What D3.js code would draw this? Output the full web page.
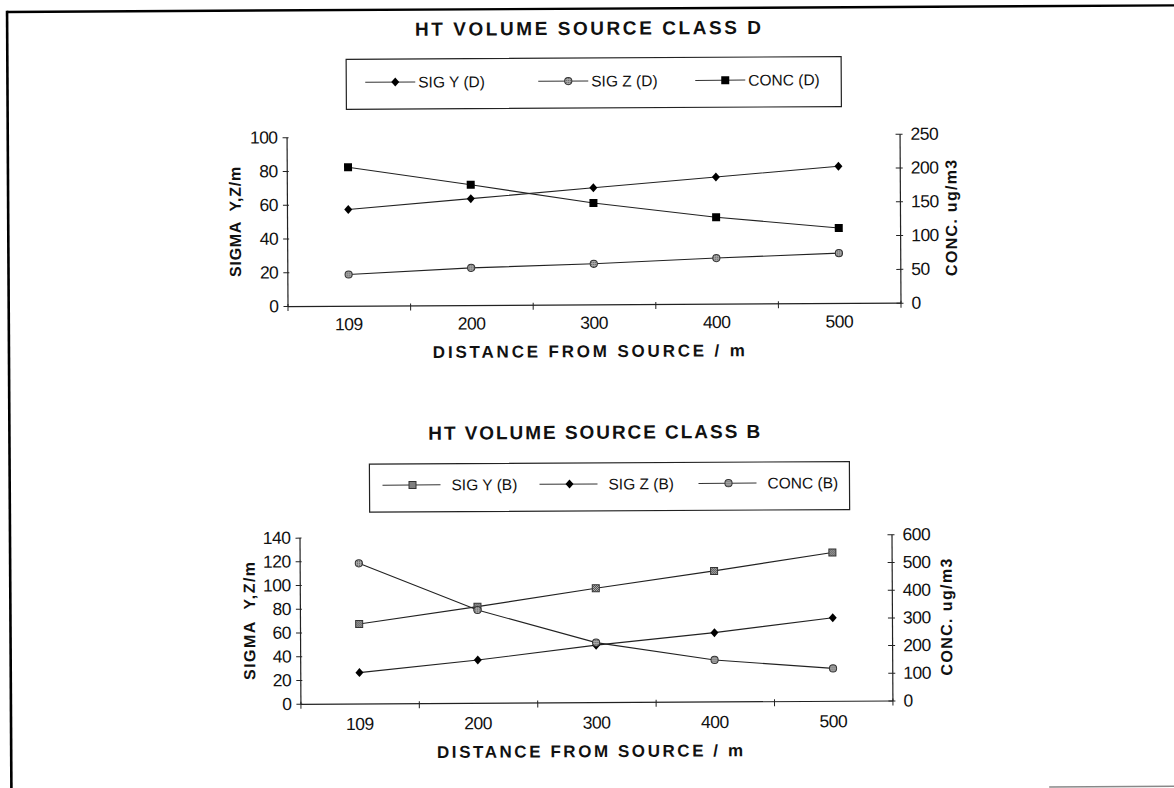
<!DOCTYPE html>
<html>
<head>
<meta charset="utf-8">
<script src="https://cdn.jsdelivr.net/npm/d3@7"></script>
<style>
  html, body { margin: 0; padding: 0; background: #fff; }
  svg { display: block; }
  text { font-family: "Liberation Sans", Arial, sans-serif; fill: #111; }
</style>
</head>
<body>
<svg id="chart" width="1174" height="788"></svg>
<script>
// Distance categories (m) shared by both panels
const categories = ["109", "200", "300", "400", "500"];

// Stability class D
const sigYD = [57, 63, 69, 75, 81];
const sigZD = [18.5, 22, 24, 27, 29.5];
const concD = [205, 178, 150, 128, 111];

// Stability class B
const sigYB = [67, 81, 96, 110, 125];
const sigZB = [26, 36, 48, 58, 70];
const concB = [506, 335, 215, 150, 117];

// Axis tick values
const leftTicksD = [0, 20, 40, 60, 80, 100];
const rightTicksD = [0, 50, 100, 150, 200, 250];
const leftTicksB = [0, 20, 40, 60, 80, 100, 120, 140];
const rightTicksB = [0, 100, 200, 300, 400, 500, 600];

const svg = d3.select("#chart");

// Checker / speckle fills for the grey markers
const defs = svg.append("defs");
const chk = defs.append("pattern").attr("id", "checker")
  .attr("width", 2).attr("height", 2).attr("patternUnits", "userSpaceOnUse");
chk.append("rect").attr("width", 2).attr("height", 2).attr("fill", "#bbb");
chk.append("rect").attr("width", 1).attr("height", 1).attr("fill", "#444");
chk.append("rect").attr("x", 1).attr("y", 1).attr("width", 1).attr("height", 1).attr("fill", "#444");
const dots = defs.append("pattern").attr("id", "speckle")
  .attr("width", 2).attr("height", 2).attr("patternUnits", "userSpaceOnUse");
dots.append("rect").attr("width", 2).attr("height", 2).attr("fill", "#aaa");
dots.append("rect").attr("width", 1).attr("height", 1).attr("fill", "#555");

// The sheet sits very slightly skewed on the page
const page = svg.append("g").attr("transform", "rotate(-0.32 587 394)");

// Page frame (left and top rules)
page.append("line").attr("x1", 9).attr("y1", 8.7).attr("x2", 1185).attr("y2", 8.7)
  .attr("stroke", "#000").attr("stroke-width", 2.4);
page.append("line").attr("x1", 9.2).attr("y1", 7.5).attr("x2", 9.2).attr("y2", 800)
  .attr("stroke", "#000").attr("stroke-width", 2.6);
page.append("line").attr("x1", 1047).attr("y1", 789.5).attr("x2", 1185).attr("y2", 789.5)
  .attr("stroke", "#888").attr("stroke-width", 1.5);

function marker(g, type, x, y) {
  if (type === "diamond") {
    g.append("path").attr("d", `M${x},${y - 4.5}L${x + 4},${y}L${x},${y + 4.5}L${x - 4},${y}Z`)
      .attr("fill", "#000");
  } else if (type === "square") {
    g.append("rect").attr("x", x - 4).attr("y", y - 4).attr("width", 8).attr("height", 8)
      .attr("fill", "#000");
  } else if (type === "greySquare") {
    g.append("rect").attr("x", x - 3.5).attr("y", y - 3.5).attr("width", 7).attr("height", 7)
      .attr("fill", "url(#checker)").attr("stroke", "#333").attr("stroke-width", 1);
  } else if (type === "greyCircle") {
    g.append("circle").attr("cx", x).attr("cy", y).attr("r", 3.6)
      .attr("fill", "url(#speckle)").attr("stroke", "#333").attr("stroke-width", 1);
  }
}

// Bold, letter-spaced heading text spread to a set width
function boldText(g, x, y, str, size, width, rotate) {
  const t = g.append("text")
    .attr("text-anchor", "middle").attr("font-weight", "bold")
    .attr("font-size", size).attr("dy", "0.36em")
    .attr("textLength", width).attr("lengthAdjust", "spacing")
    .attr("xml:space", "preserve").text(str);
  if (rotate) t.attr("transform", `translate(${x},${y}) rotate(-90)`);
  else t.attr("x", x).attr("y", y);
  return t;
}

function panel(cfg) {
  const g = page.append("g");
  const { x0, x1, y0, y1 } = cfg.plot;

  // Title
  boldText(g, cfg.titleX, cfg.titleY, cfg.title, 19, cfg.titleW, false);

  // Legend
  const L = cfg.legend;
  g.append("rect").attr("x", L.x).attr("y", L.y).attr("width", L.w).attr("height", L.h)
    .attr("fill", "none").attr("stroke", "#222").attr("stroke-width", 1.2);
  cfg.series.forEach((s, i) => {
    const mx = L.items[i], my = L.y + L.rowDy;
    g.append("line").attr("x1", mx - L.lineL).attr("x2", mx + L.lineR).attr("y1", my).attr("y2", my)
      .attr("stroke", "#333").attr("stroke-width", 1);
    marker(g, s.marker, mx, my);
    g.append("text").attr("x", mx + L.textDx).attr("y", my).attr("dy", "0.36em")
      .attr("font-size", 15.5).text(s.name);
  });

  // Scales
  const xBand = d3.scaleBand().domain(categories).range([x0, x1]);
  const yL = d3.scaleLinear().domain(cfg.leftDomain).range([y0, y1]);
  const yR = d3.scaleLinear().domain(cfg.rightDomain).range([y0, y1]);
  const xc = c => xBand(c) + xBand.bandwidth() / 2;

  // Left axis
  const axL = g.append("g").attr("transform", `translate(${x0},0)`)
    .call(d3.axisLeft(yL).tickValues(cfg.leftTicks).tickSizeInner(4).tickSizeOuter(0).tickPadding(5));
  axL.selectAll(".tick line").attr("x1", 2);
  // Right axis
  const axR = g.append("g").attr("transform", `translate(${x1},0)`)
    .call(d3.axisRight(yR).tickValues(cfg.rightTicks).tickSizeInner(3).tickSizeOuter(0).tickPadding(8));
  axR.selectAll(".tick line").attr("x1", -4);
  // Category axis: ticks at band edges, labels at band centres
  const edges = d3.range(categories.length + 1).map(i => x0 + i * xBand.step());
  const edgeScale = d3.scaleLinear().domain([x0, x1]).range([x0, x1]);
  const axB = g.append("g").attr("transform", `translate(0,${y0})`)
    .call(d3.axisBottom(edgeScale).tickValues(edges).tickFormat("").tickSizeInner(5).tickSizeOuter(0));
  axB.selectAll(".tick line").attr("y1", -2);
  g.append("g").attr("transform", `translate(0,${y0})`)
    .call(d3.axisBottom(xBand).tickSize(0).tickPadding(cfg.xLabelPad))
    .call(a => a.select(".domain").remove());

  [axL, axR, axB].forEach(a => {
    a.selectAll(".domain").attr("stroke", "#222").attr("stroke-width", 1.2);
    a.selectAll(".tick line").attr("stroke", "#222").attr("stroke-width", 1);
  });
  g.selectAll(".tick text").attr("font-family", "'Liberation Sans', Arial, sans-serif")
    .attr("font-size", 17.5).attr("letter-spacing", -0.5).attr("fill", "#111");

  // Axis titles
  boldText(g, cfg.leftTitleX, (y0 + y1) / 2, "SIGMA  Y,Z/m", 16, cfg.leftTitleW, true);
  boldText(g, cfg.rightTitleX, (y0 + y1) / 2, "CONC. ug/m3", 16, cfg.rightTitleW, true);
  boldText(g, cfg.xTitleX, cfg.xTitleY, "DISTANCE FROM SOURCE / m", 17, cfg.xTitleW, false);

  // Series
  cfg.series.forEach(s => {
    const y = s.axis === "left" ? yL : yR;
    const line = d3.line().x((d, i) => xc(categories[i])).y(d => y(d));
    g.append("path").datum(s.values).attr("d", line)
      .attr("fill", "none").attr("stroke", "#222").attr("stroke-width", 1.1);
  });
  cfg.series.forEach(s => {
    const y = s.axis === "left" ? yL : yR;
    s.values.forEach((v, i) => marker(g, s.marker, xc(categories[i]), y(v)));
  });
}

panel({
  title: "HT VOLUME SOURCE CLASS D",
  titleX: 590, titleY: 28, titleW: 346,
  legend: { x: 348, y: 58, w: 495, h: 50, rowDy: 23, items: [397, 570, 727],
            lineL: 30, lineR: 20, textDx: 23 },
  plot: { x0: 288, x1: 901, y0: 304.4, y1: 135.5 },
  leftDomain: [0, 100], rightDomain: [0, 250],
  leftTicks: leftTicksD, rightTicks: rightTicksD,
  xLabelPad: 12, xTitleX: 589, xTitleY: 351, xTitleW: 312,
  leftTitleX: 236, leftTitleW: 110, rightTitleX: 952, rightTitleW: 116,
  series: [
    { name: "SIG Y (D)", values: sigYD, axis: "left", marker: "diamond" },
    { name: "SIG Z (D)", values: sigZD, axis: "left", marker: "greyCircle" },
    { name: "CONC (D)", values: concD, axis: "right", marker: "square" }
  ]
});

panel({
  title: "HT VOLUME SOURCE CLASS B",
  titleX: 594, titleY: 432, titleW: 332,
  legend: { x: 369, y: 463, w: 480, h: 48, rowDy: 21, items: [412, 569, 728],
            lineL: 30, lineR: 28, textDx: 39 },
  plot: { x0: 298.7, x1: 890.7, y0: 702.2, y1: 536 },
  leftDomain: [0, 140], rightDomain: [0, 600],
  leftTicks: leftTicksB, rightTicks: rightTicksB,
  xLabelPad: 14, xTitleX: 588, xTitleY: 751, xTitleW: 306,
  leftTitleX: 248, leftTitleW: 118, rightTitleX: 945, rightTitleW: 117,
  series: [
    { name: "SIG Y (B)", values: sigYB, axis: "left", marker: "greySquare" },
    { name: "SIG Z (B)", values: sigZB, axis: "left", marker: "diamond" },
    { name: "CONC (B)", values: concB, axis: "right", marker: "greyCircle" }
  ]
});
</script>
</body>
</html>
